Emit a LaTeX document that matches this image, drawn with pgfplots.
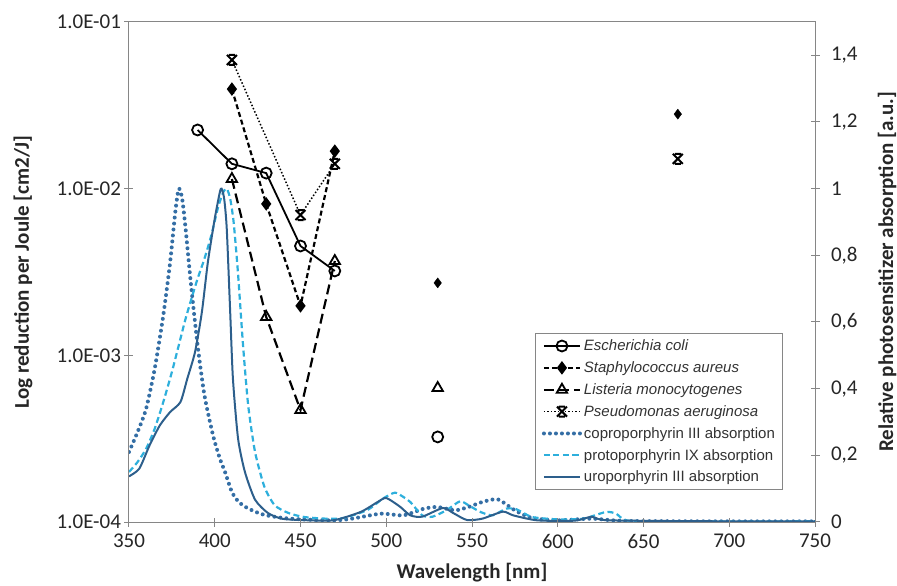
\documentclass[border=0pt]{standalone}
\usepackage{fontspec}
\setmainfont{Carlito}
\newfontfamily\legfont{Liberation Sans}
\usepackage{pgfplots}
\pgfplotsset{compat=1.18}
\definecolor{copro}{RGB}{52,110,165}
\definecolor{proto}{RGB}{45,175,220}
\definecolor{uro}{RGB}{45,95,140}
\definecolor{axgray}{RGB}{134,134,134}
\pgfdeclareplotmark{xbar}{%
 \pgfpathmoveto{\pgfqpoint{-\pgfplotmarksize}{-\pgfplotmarksize}}%
 \pgfpathlineto{\pgfqpoint{\pgfplotmarksize}{\pgfplotmarksize}}%
 \pgfpathmoveto{\pgfqpoint{-\pgfplotmarksize}{\pgfplotmarksize}}%
 \pgfpathlineto{\pgfqpoint{\pgfplotmarksize}{-\pgfplotmarksize}}%
 \pgfpathmoveto{\pgfqpoint{-0.6\pgfplotmarksize}{\pgfplotmarksize}}%
 \pgfpathlineto{\pgfqpoint{0.6\pgfplotmarksize}{\pgfplotmarksize}}%
 \pgfpathmoveto{\pgfqpoint{-0.6\pgfplotmarksize}{-\pgfplotmarksize}}%
 \pgfpathlineto{\pgfqpoint{0.6\pgfplotmarksize}{-\pgfplotmarksize}}%
 \pgfusepathqstroke}
\pgfplotsset{
  commonax/.style={
    scale only axis, width=686pt, height=500pt,
    xmin=350, xmax=750,
    axis line style={draw=axgray, line width=1pt},
    tick style={draw=axgray, line width=1pt},
    tick align=center, major tick length=9pt,
    ticklabel style={font=\fontsize{21}{24}\selectfont, text=black!85},
    label style={font=\bfseries\fontsize{21}{24}\selectfont, text=black!85},
    /pgf/number format/assume math mode=true,
  },
  legend image code/.code={\draw[mark repeat=2,mark phase=2,#1] plot coordinates {(0pt,0pt) (18pt,0pt) (36pt,0pt)};},
}
\begin{document}
\begin{tikzpicture}
% right axis: absorption spectra
\begin{axis}[commonax,
  axis x line=none,
  axis y line*=right,
  ymin=0, ymax=1.5,
  ytick={0,0.2,0.4,0.6,0.8,1,1.2,1.4},
  yticklabels={0,{0,2},{0,4},{0,6},{0,8},1,{1,2},{1,4}},
  yticklabel style={xshift=8pt},
  ylabel={Relative photosensitizer absorption [a.u.]},
  ylabel style={at={(axis description cs:1.105,0.5)}, anchor=center, rotate=0},
  legend style={at={(axis cs:587,0.566)}, anchor=north west, draw=axgray, line width=1pt, fill=white,
    font=\legfont\fontsize{15}{17}\selectfont, text=black!80, row sep=5.5pt, inner xsep=6pt, inner ysep=4pt},
  legend cell align=left,
]
\addlegendimage{black, line width=1.8pt, mark=o, mark size=5.5pt, mark options={solid}}
\addlegendentry{\textit{Escherichia coli}}
\addlegendimage{black, line width=2.2pt, dash pattern=on 5pt off 3pt, mark=diamond*, mark size=5pt, mark options={solid}}
\addlegendentry{\textit{Staphylococcus aureus}}
\addlegendimage{black, line width=2.2pt, dash pattern=on 10pt off 5pt, mark=triangle, mark size=6pt, mark options={solid, line width=1.8pt}}
\addlegendentry{\textit{Listeria monocytogenes}}
\addlegendimage{black, line width=1.5pt, dash pattern=on 1.5pt off 2pt, mark=xbar, mark size=5pt, mark options={solid, line width=2pt}}
\addlegendentry{\textit{Pseudomonas aeruginosa}}
% coproporphyrin III
\addplot[copro, line width=4pt, dash pattern=on 0pt off 6pt, line cap=round, smooth, tension=0.4] coordinates {
(350,0.21) (355,0.27) (360,0.34) (365,0.46) (370,0.62) (374,0.78) (377,0.93) (379,1.00)
(381,0.97) (383,0.88) (386,0.72) (390,0.53) (394,0.38) (399,0.26) (403,0.19) (406,0.15)
(410,0.09) (414,0.06) (419,0.042) (425,0.028) (430,0.02) (440,0.012) (450,0.008) (470,0.005)
(480,0.01) (497,0.025) (510,0.02) (522,0.04) (530,0.045) (540,0.035) (548,0.045) (556,0.06)
(565,0.068) (575,0.035) (585,0.012) (600,0.005) (620,0.01) (640,0.003) (700,0.002) (750,0.002)};
\addlegendentry{coproporphyrin III absorption}
% protoporphyrin IX
\addplot[proto, line width=2.2pt, dash pattern=on 6pt off 3.5pt, smooth, tension=0.4] coordinates {
(350,0.15) (355,0.18) (360,0.22) (365,0.28) (370,0.36) (375,0.45) (380,0.55) (383,0.61)
(387,0.68) (390,0.73) (394,0.79) (398,0.86) (402,0.945) (405,0.99) (407,1.00) (409,0.97)
(411,0.90) (413.5,0.75) (416.5,0.53) (419.5,0.35) (423.5,0.21) (429,0.105) (435,0.05)
(443,0.027) (452,0.015) (465,0.01) (475,0.012) (489,0.036) (498,0.07) (505,0.088) (510,0.075)
(514,0.06) (521,0.02) (527,0.016) (535,0.035) (543,0.062) (548,0.05) (555,0.03) (562,0.02)
(570,0.04) (576,0.038) (585,0.015) (600,0.008) (615,0.01) (628,0.03) (634,0.025) (640,0.005)
(660,0.002) (750,0.002)};
\addlegendentry{protoporphyrin IX absorption}
% uroporphyrin III
\addplot[uro, line width=2pt, smooth, tension=0.4] coordinates {
(350,0.137) (356,0.16) (362,0.23) (368,0.29) (374,0.33) (380,0.36) (384,0.43) (388.5,0.51)
(392.5,0.63) (396,0.78) (400,0.91) (403,0.99) (404,1.00) (405.5,0.97) (407,0.88) (409,0.63)
(410.6,0.43) (413.6,0.25) (417.6,0.15) (423.5,0.067) (431,0.027) (439,0.01) (450,0.006)
(469,0.005) (485,0.03) (495,0.06) (500,0.072) (508,0.046) (514,0.02) (521,0.016) (533,0.042)
(539,0.027) (547,0.006) (556,0.01) (568,0.031) (574,0.02) (588,0.005) (610,0.004) (620,0.016)
(630,0.005) (700,0.002) (750,0.002)};
\addlegendentry{uroporphyrin III absorption}
\end{axis}
% left axis: log reduction per joule
\begin{axis}[commonax,
  ymode=log, ymin=1e-4, ymax=1e-1,
  ytick={1e-4,1e-3,1e-2,1e-1},
  yticklabels={1.0E-04,1.0E-03,1.0E-02,1.0E-01},
  yminorticks=false,
  xtick={350,400,450,500,550,600,650,700,750},
  xticklabels={350,400,450,500,550,600,650,700,750},
  xtick pos=bottom, ytick pos=left,
  xticklabel style={yshift=-4pt},
  xlabel={Wavelength [nm]},
  xlabel style={at={(axis description cs:0.5,-0.102)}, anchor=center},
  ylabel={Log reduction per Joule [cm2/J]},
  ylabel style={at={(axis description cs:-0.1545,0.5)}, anchor=center},
]
% Escherichia coli
\addplot[black, line width=1.8pt, mark=o, mark size=5.5pt, mark options={solid}] coordinates {
(390,0.0225) (410,0.0141) (430,0.0124) (450,0.00453) (470,0.00321)};
\addplot[black, only marks, line width=1.8pt, mark=o, mark size=5.5pt] coordinates {(530,0.000324)};
% Staphylococcus aureus
\addplot[black, line width=2.2pt, dash pattern=on 5pt off 3pt, mark=diamond*, mark size=5pt, mark options={solid}] coordinates {
(410,0.0396) (430,0.0081) (450,0.00198) (470,0.0168)};
\addplot[black, only marks, mark=diamond*, mark size=5pt] coordinates {(530,0.00272) (670,0.028)};
% Listeria monocytogenes
\addplot[black, line width=2.2pt, dash pattern=on 10pt off 5pt, mark=triangle, mark size=6pt, mark options={solid, line width=1.8pt}] coordinates {
(410,0.01143) (430,0.0017) (450,0.00047) (470,0.00368)};
\addplot[black, only marks, line width=1.8pt, mark=triangle, mark size=6pt] coordinates {(530,0.000637)};
% Pseudomonas aeruginosa
\addplot[black, line width=1.5pt, dash pattern=on 1.5pt off 2pt, mark=xbar, mark size=5pt, mark options={solid, line width=2pt}] coordinates {
(410,0.0592) (450,0.00695) (470,0.0141)};
\addplot[black, only marks, mark=xbar, mark size=5pt, mark options={line width=2pt}] coordinates {(670,0.0151)};
\end{axis}
\pgfresetboundingbox
\path[use as bounding box] (-129pt,-64pt) rectangle (768pt,522pt);
\end{tikzpicture}
\end{document}
